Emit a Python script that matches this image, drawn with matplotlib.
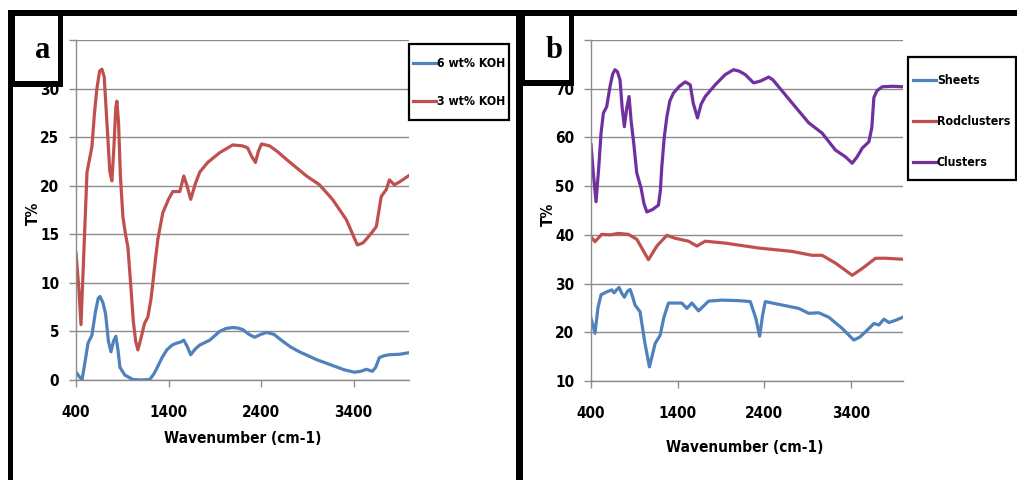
import matplotlib
matplotlib.use("Agg")
import matplotlib.pyplot as plt
from matplotlib.patches import Rectangle
import matplotlib.font_manager as fm

W, H = 1017, 480

plt.rcParams['font.family'] = ['DejaVu Sans']
plt.rcParams['font.stretch'] = 'condensed'
plt.rcParams['xtick.major.pad'] = 13
plt.rcParams['ytick.major.pad'] = 7

# find condensed bold DejaVu if present
cond_bold = None
for f in fm.fontManager.ttflist:
    if f.name == 'DejaVu Sans' and 'ondensed' in f.fname and 'Bold' in f.fname and 'Oblique' not in f.fname:
        cond_bold = f.fname
        break


def fp(size):
    if cond_bold:
        return fm.FontProperties(fname=cond_bold, size=size)
    return fm.FontProperties(family='DejaVu Sans', weight='bold', size=size)


# ---------------- data ----------------
wn_a_3koh = [400, 430, 454, 480, 519, 572, 600, 626, 655, 680, 705, 725, 745, 765, 788, 810, 830, 842, 860, 880,
             907, 935, 961, 990, 1020, 1045, 1069, 1100, 1140, 1177, 1210, 1231, 1260, 1285, 1338, 1400, 1446,
             1522, 1565, 1600, 1640, 1690, 1738, 1824, 1953, 2094, 2200, 2255, 2300, 2340, 2370, 2406, 2493,
             2580, 2676, 2892, 3032, 3172, 3323, 3400, 3442, 3500, 3539, 3600, 3647, 3700, 3754, 3788, 3841,
             3900, 3992]
t_a_3koh = [13.1, 9.5, 5.7, 12.0, 21.4, 24.0, 27.5, 30.0, 31.8, 32.0, 31.2, 28.0, 24.8, 21.5, 20.5, 24.0, 28.0,
            28.7, 26.5, 21.0, 16.8, 15.0, 13.7, 10.0, 6.0, 4.0, 3.1, 4.2, 5.8, 6.5, 8.3, 10.0, 12.5, 14.5, 17.2,
            18.6, 19.4, 19.4, 21.0, 20.0, 18.6, 20.2, 21.4, 22.4, 23.4, 24.2, 24.1, 23.9, 23.0, 22.4, 23.5, 24.3,
            24.1, 23.5, 22.7, 21.0, 20.1, 18.6, 16.5, 14.8, 13.9, 14.1, 14.5, 15.2, 15.8, 18.9, 19.6, 20.6, 20.1,
            20.4, 21.0]

wn_a_6koh = [400, 440, 465, 500, 530, 572, 610, 640, 659, 690, 720, 750, 778, 805, 831, 855, 875, 929, 1015,
             1100, 1198, 1240, 1274, 1330, 1382, 1440, 1490, 1530, 1565, 1600, 1640, 1690, 1738, 1846, 1953,
             2020, 2094, 2150, 2201, 2270, 2331, 2400, 2460, 2540, 2633, 2720, 2816, 3000, 3172, 3300, 3410,
             3480, 3539, 3604, 3640, 3679, 3730, 3788, 3900, 3992]
t_a_6koh = [0.8, 0.3, 0.0, 2.0, 3.8, 4.6, 7.0, 8.4, 8.6, 8.0, 6.8, 4.0, 2.9, 4.0, 4.5, 3.0, 1.3, 0.5, 0.05,
            0.0, 0.05, 0.6, 1.2, 2.3, 3.1, 3.6, 3.8, 3.9, 4.1, 3.5, 2.6, 3.2, 3.6, 4.1, 5.0,
            5.3, 5.4, 5.35, 5.2, 4.7, 4.4, 4.7, 4.9, 4.7, 4.0, 3.4, 2.9, 2.1, 1.5, 1.05, 0.8,
            0.9, 1.1, 0.9, 1.3, 2.3, 2.5, 2.6, 2.65, 2.8]

wn_b_sheets = [400, 446, 480, 516, 581, 639, 666, 700, 724, 755, 785, 820, 851, 880, 908, 966, 1020, 1074, 1110,
               1140, 1198, 1240, 1294, 1448, 1506, 1564, 1641, 1757, 1911, 2100, 2238, 2300, 2346, 2380, 2411,
               2604, 2797, 2912, 3028, 3143, 3298, 3432, 3500, 3568, 3664, 3722, 3780, 3838, 3920, 4000]
t_b_sheets = [22.9, 19.8, 25.0, 27.7, 28.3, 28.7, 28.1, 28.8, 29.2, 28.0, 27.2, 28.4, 28.8, 27.3, 25.6, 24.2, 18.0,
              12.9, 15.5, 17.7, 19.4, 23.0, 26.0, 26.0, 24.9, 26.0, 24.4, 26.4, 26.6, 26.5, 26.3, 23.0, 19.2,
              23.5, 26.3, 25.6, 24.9, 23.9, 24.0, 23.1, 20.8, 18.4, 19.0, 20.1, 21.8, 21.5, 22.7, 22.0, 22.5, 23.1]

wn_b_rod = [400, 446, 523, 620, 716, 831, 928, 986, 1063, 1160, 1275, 1371, 1525, 1622, 1718, 1949, 2334, 2720,
            2950, 3067, 3221, 3414, 3530, 3683, 3799, 3992]
t_b_rod = [39.6, 38.6, 40.1, 40.0, 40.3, 40.1, 39.1, 37.3, 34.9, 37.7, 39.9, 39.3, 38.7, 37.7, 38.7, 38.3, 37.3,
           36.6, 35.8, 35.8, 34.2, 31.7, 33.1, 35.2, 35.2, 35.0]

wn_b_clusters = [400, 430, 458, 490, 516, 543, 581, 620, 650, 677, 705, 735, 760, 785, 812, 839, 865, 889, 928,
                 978, 1010, 1044, 1110, 1178, 1200, 1217, 1245, 1275, 1310, 1351, 1420, 1487, 1545, 1580, 1629,
                 1670, 1718, 1833, 1949, 2045, 2110, 2180, 2276, 2360, 2450, 2500, 2565, 2719, 2912, 3066, 3221,
                 3337, 3414, 3470, 3530, 3606, 3640, 3664, 3700, 3761, 3880, 4000]
t_b_clusters = [58.5, 52.0, 46.8, 54.0, 60.9, 65.0, 66.3, 70.5, 73.0, 73.9, 73.5, 71.8, 66.0, 62.2, 66.0, 68.4, 63.0,
                59.5, 52.7, 49.6, 46.5, 44.7, 45.2, 46.1, 49.0, 54.0, 60.0, 64.2, 67.5, 69.1, 70.5, 71.4, 70.8,
                67.0, 64.0, 66.8, 68.4, 70.8, 72.9, 73.9, 73.6, 72.9, 71.2, 71.6, 72.4, 71.8, 70.4, 67.1, 63.0,
                60.9, 57.4, 56.0, 54.7, 56.0, 57.8, 59.1, 62.0, 68.2, 69.6, 70.4, 70.5, 70.4]

x_ticks = [400, 1400, 2400, 3400]
y_ticks_a = [0, 5, 10, 15, 20, 25, 30, 35]
y_ticks_b = [10, 20, 30, 40, 50, 60, 70, 80]
labels_a = ['6 wt% KOH', '3 wt% KOH']
labels_b = ['Sheets', 'Rodclusters', 'Clusters']

BLUE, RED, PURPLE = '#4F81BD', '#C0504D', '#7030A0'
GRID = '#8C8C8C'
TICK_SIZE = 11
LEG_SIZE = 8.8

fig = plt.figure(figsize=(W / 100, H / 100), dpi=100)
fig.patch.set_facecolor('white')


def axes_px(x0, x1, y0, y1):
    return fig.add_axes([x0 / W, 1 - y1 / H, (x1 - x0) / W, (y1 - y0) / H])


def style(ax, yt, ylim, hidden):
    ax.set_xlim(400, 4000)
    ax.set_ylim(*ylim)
    ax.set_xticks(x_ticks)
    ax.set_xticklabels([str(v) for v in x_ticks], fontproperties=fp(TICK_SIZE))
    ax.set_yticks(yt)
    ax.set_yticklabels(['' if v == hidden else str(v) for v in yt], fontproperties=fp(TICK_SIZE))
    for s in ['top', 'right']:
        ax.spines[s].set_visible(False)
    for s in ['left', 'bottom']:
        ax.spines[s].set_color(GRID)
        ax.spines[s].set_linewidth(1.0)
    ax.grid(axis='y', color=GRID, linewidth=1.0)
    ax.set_axisbelow(True)
    ax.tick_params(axis='both', length=5, width=1, color=GRID)


def legend(ax, box, x_line, y_first, labelspacing):
    # frame drawn at the reference box position, entries placed by the legend itself
    x0, y0, x1, y1 = box
    ax.add_artist(Rectangle((x0 / W, 1 - y1 / H), (x1 - x0) / W, (y1 - y0) / H, transform=fig.transFigure,
                            facecolor='white', edgecolor='black', linewidth=1.6, clip_on=False, zorder=4))
    leg = ax.legend(loc='upper left', bbox_to_anchor=(x_line / W, 1 - (y_first - 7) / H),
                    bbox_transform=fig.transFigure, borderaxespad=0, borderpad=0, frameon=False,
                    handlelength=1.9, handletextpad=0.05, labelspacing=labelspacing, prop=fp(LEG_SIZE))
    leg.set_zorder(5)
    return leg


# Panel a
ax1 = axes_px(76, 409, 40, 380)
style(ax1, y_ticks_a, (0, 35), 35)
ax1.plot(wn_a_6koh, t_a_6koh, color=BLUE, lw=2.3, solid_joinstyle='round', label=labels_a[0])
ax1.plot(wn_a_3koh, t_a_3koh, color=RED, lw=2.3, solid_joinstyle='round', label=labels_a[1])
ax1.set_ylabel('T%', fontproperties=fp(TICK_SIZE))
ax1.yaxis.set_label_coords(-0.105, 0.49)
ax1.set_xlabel('Wavenumber (cm-1)', fontproperties=fp(TICK_SIZE))
ax1.xaxis.set_label_coords(0.5, -0.150)
legend(ax1, (409, 44, 509, 120), 413, 64, 2.05)

# Panel b
ax2 = axes_px(591, 903, 40, 381)
style(ax2, y_ticks_b, (10, 80), 80)
ax2.plot(wn_b_sheets, t_b_sheets, color=BLUE, lw=2.3, solid_joinstyle='round', label=labels_b[0])
ax2.plot(wn_b_rod, t_b_rod, color=RED, lw=2.3, solid_joinstyle='round', label=labels_b[1])
ax2.plot(wn_b_clusters, t_b_clusters, color=PURPLE, lw=2.3, solid_joinstyle='round', label=labels_b[2])
ax2.set_ylabel('T%', fontproperties=fp(TICK_SIZE))
ax2.yaxis.set_label_coords(-0.112, 0.49)
ax2.set_xlabel('Wavenumber (cm-1)', fontproperties=fp(TICK_SIZE))
ax2.xaxis.set_label_coords(0.494, -0.173)
legend(ax2, (908, 57, 1016, 180), 913, 81, 2.3)


def rect_px(x0, y0, x1, y1, color, z=10):
    fig.add_artist(Rectangle((x0 / W, 1 - y1 / H), (x1 - x0) / W, (y1 - y0) / H,
                             transform=fig.transFigure, facecolor=color, edgecolor='none', zorder=z))


# outer frames
rect_px(8, 10, 517, 16, 'black')
rect_px(8, 10, 13, 480, 'black')
rect_px(516, 10, 523, 480, 'black')
rect_px(517, 10, 1017, 16, 'black')
# label boxes
rect_px(8, 10, 63, 87, 'black')
rect_px(15, 16, 58, 81, 'white', z=11)
rect_px(516, 10, 574, 86, 'black')
rect_px(525, 16, 569, 80, 'white', z=11)
fig.text(43 / W, 1 - 58 / H, 'a', ha='center', va='baseline', fontsize=22, fontweight='bold',
         family='Liberation Serif', zorder=12)
fig.text(554 / W, 1 - 58 / H, 'b', ha='center', va='baseline', fontsize=22, fontweight='bold',
         family='Liberation Serif', zorder=12)

fig.savefig('out.png', dpi=100, facecolor='white')
